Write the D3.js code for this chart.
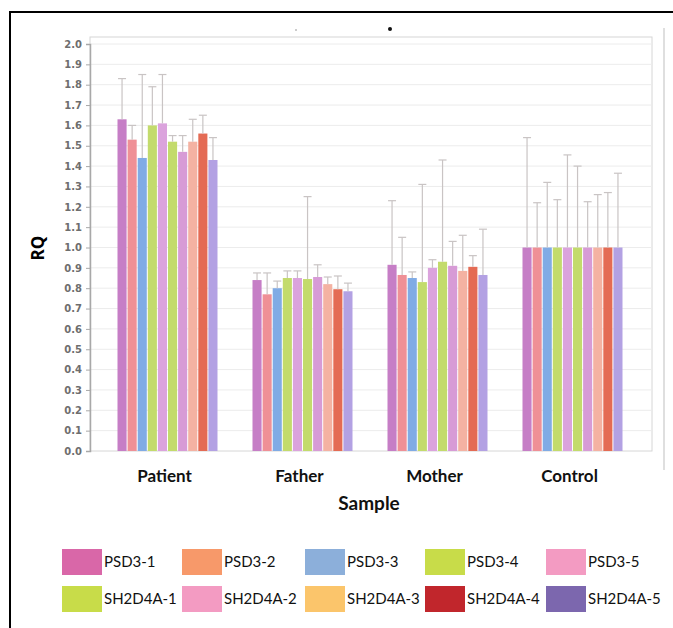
<!DOCTYPE html>
<html>
<head>
<meta charset="utf-8">
<script src="https://cdn.jsdelivr.net/npm/d3@7"></script>
<style>
  body { margin: 0; background: #fff; }
  svg { display: block; }
</style>
</head>
<body>
<script>
// categories and series
const samples = ["Patient", "Father", "Mother", "Control"];
const series = ["PSD3-1", "PSD3-2", "PSD3-3", "PSD3-4", "PSD3-5",
  "SH2D4A-1", "SH2D4A-2", "SH2D4A-3", "SH2D4A-4", "SH2D4A-5"];

// RQ values per sample (one per series)
const patientRQ = [1.63, 1.53, 1.44, 1.60, 1.61, 1.52, 1.47, 1.52, 1.56, 1.43];
const fatherRQ  = [0.84, 0.77, 0.80, 0.85, 0.85, 0.845, 0.855, 0.82, 0.795, 0.785];
const motherRQ  = [0.915, 0.865, 0.85, 0.83, 0.90, 0.93, 0.91, 0.885, 0.905, 0.865];
const controlRQ = [1.0, 1.0, 1.0, 1.0, 1.0, 1.0, 1.0, 1.0, 1.0, 1.0];

// upper end of the error bars
const patientHi = [1.83, 1.60, 1.85, 1.79, 1.85, 1.55, 1.55, 1.63, 1.65, 1.54];
const fatherHi  = [0.875, 0.875, 0.835, 0.885, 0.885, 1.25, 0.915, 0.855, 0.86, 0.825];
const motherHi  = [1.23, 1.05, 0.88, 1.31, 0.94, 1.43, 1.03, 1.06, 0.96, 1.09];
const controlHi = [1.54, 1.22, 1.32, 1.235, 1.455, 1.40, 1.225, 1.26, 1.27, 1.365];

const yTicks = d3.range(0, 21).map(i => i / 10);

const barColors = ["#c67ec6", "#ef9096", "#80abe5", "#c3db6c", "#dba3dd",
  "#c3db6c", "#d79bd6", "#f4b2a2", "#e46b54", "#b3a1e3"];
const legendColors = ["#d967a8", "#f7996a", "#8cafda", "#c8dc49", "#f39bc2",
  "#c8dc49", "#f39bc2", "#fbc56b", "#c1262c", "#7c67ae"];

const rqBySample = [patientRQ, fatherRQ, motherRQ, controlRQ];
const hiBySample = [patientHi, fatherHi, motherHi, controlHi];
const rows = [];
samples.forEach((s, i) => series.forEach((k, j) => {
  rows.push({ sample: s, key: k, idx: j, v: rqBySample[i][j], hi: hiBySample[i][j] });
}));

const W = 673, H = 628;
const plot = { left: 90, right: 652, top: 37, bottom: 451 };

const svg = d3.select("body").append("svg")
  .attr("width", W)
  .attr("height", H);

// outer frame
svg.append("path")
  .attr("d", `M10,628 L10,12 L673,12`)
  .attr("fill", "none")
  .attr("stroke", "#000")
  .attr("stroke-width", 2);
svg.append("line")
  .attr("x1", 664).attr("x2", 664)
  .attr("y1", 28).attr("y2", 470)
  .attr("stroke", "#d4d4d4")
  .attr("stroke-width", 1.5);
svg.append("circle").attr("cx", 390).attr("cy", 29).attr("r", 2).attr("fill", "#111");
svg.append("circle").attr("cx", 296).attr("cy", 30).attr("r", 1).attr("fill", "#bbb");

const y = d3.scaleLinear()
  .domain([0, 2])
  .range([plot.bottom, 44]);

const x0 = d3.scaleBand()
  .domain(samples)
  .range([100, 640]);

const x1 = d3.scaleBand()
  .domain(series)
  .range([17.5, x0.bandwidth() - 17.5])
  .paddingInner(0.1);

// plot box
svg.append("rect")
  .attr("x", plot.left)
  .attr("y", plot.top)
  .attr("width", plot.right - plot.left)
  .attr("height", plot.bottom - plot.top)
  .attr("fill", "none")
  .attr("stroke", "#d6d6d6");

// grid
svg.append("g")
  .selectAll("line")
  .data(yTicks.slice(1))
  .join("line")
  .attr("x1", plot.left)
  .attr("x2", plot.right)
  .attr("y1", d => y(d))
  .attr("y2", d => y(d))
  .attr("stroke", "#ececec");

// bars
const groups = svg.append("g")
  .selectAll("g")
  .data(samples)
  .join("g")
  .attr("transform", d => `translate(${x0(d)},0)`);

groups.selectAll("rect")
  .data(s => rows.filter(r => r.sample === s))
  .join("rect")
  .attr("x", d => x1(d.key))
  .attr("y", d => y(d.v))
  .attr("width", x1.bandwidth())
  .attr("height", d => y(0) - y(d.v))
  .attr("fill", d => barColors[d.idx]);

// error bars (upper whisker)
const err = groups.selectAll("g.err")
  .data(s => rows.filter(r => r.sample === s))
  .join("g")
  .attr("class", "err")
  .attr("stroke", "#c9c4c4")
  .attr("stroke-width", 1.2);

err.append("line")
  .attr("x1", d => x1(d.key) + x1.bandwidth() / 2)
  .attr("x2", d => x1(d.key) + x1.bandwidth() / 2)
  .attr("y1", d => y(d.v))
  .attr("y2", d => y(d.hi));
err.append("line")
  .attr("x1", d => x1(d.key) + x1.bandwidth() / 2 - 4)
  .attr("x2", d => x1(d.key) + x1.bandwidth() / 2 + 4)
  .attr("y1", d => y(d.hi))
  .attr("y2", d => y(d.hi));

// y axis
const yAxis = svg.append("g")
  .attr("transform", `translate(${plot.left},0)`)
  .call(d3.axisLeft(y).tickValues(yTicks).tickFormat(d3.format(".1f")).tickSize(4).tickPadding(4));
yAxis.select(".domain").attr("stroke", "#a8a8a8").attr("stroke-width", 1.5);
yAxis.selectAll(".tick line").attr("stroke", "#a8a8a8");
yAxis.selectAll(".tick text")
  .attr("fill", "#6e6e6e")
  .style("font-family", "'DejaVu Sans', sans-serif")
  .style("font-weight", "bold")
  .style("font-size", "10px");

svg.append("text")
  .attr("transform", `translate(44,248) rotate(-90)`)
  .attr("text-anchor", "middle")
  .style("font-family", "'Open Sans', sans-serif")
  .style("font-weight", "bold")
  .style("font-size", "17px")
  .text("RQ");

// x labels
svg.append("g")
  .selectAll("text")
  .data(samples)
  .join("text")
  .attr("x", d => x0(d) + x0.bandwidth() / 2 - 3)
  .attr("y", 482)
  .attr("text-anchor", "middle")
  .style("font-family", "Lato, sans-serif")
  .style("font-weight", "bold")
  .style("font-size", "17px")
  .attr("fill", "#111")
  .text(d => d);

svg.append("text")
  .attr("x", 369)
  .attr("y", 510)
  .attr("text-anchor", "middle")
  .style("font-family", "Lato, sans-serif")
  .style("font-weight", "bold")
  .style("font-size", "19px")
  .attr("fill", "#111")
  .text("Sample");

// legend
const legColX = [62, 182, 305, 425, 546];
const legRowY = [549, 586];
const leg = svg.append("g")
  .selectAll("g")
  .data(series)
  .join("g")
  .attr("transform", (d, i) => `translate(${legColX[i % 5]},${legRowY[Math.floor(i / 5)]})`);

leg.append("rect")
  .attr("width", 40)
  .attr("height", 26)
  .attr("fill", (d, i) => legendColors[i]);

leg.append("text")
  .attr("x", 42)
  .attr("y", 13)
  .attr("dy", "0.35em")
  .style("font-family", "Lato, sans-serif")
  .style("font-size", "15px")
  .attr("fill", "#111")
  .text(d => d);
</script>
</body>
</html>
